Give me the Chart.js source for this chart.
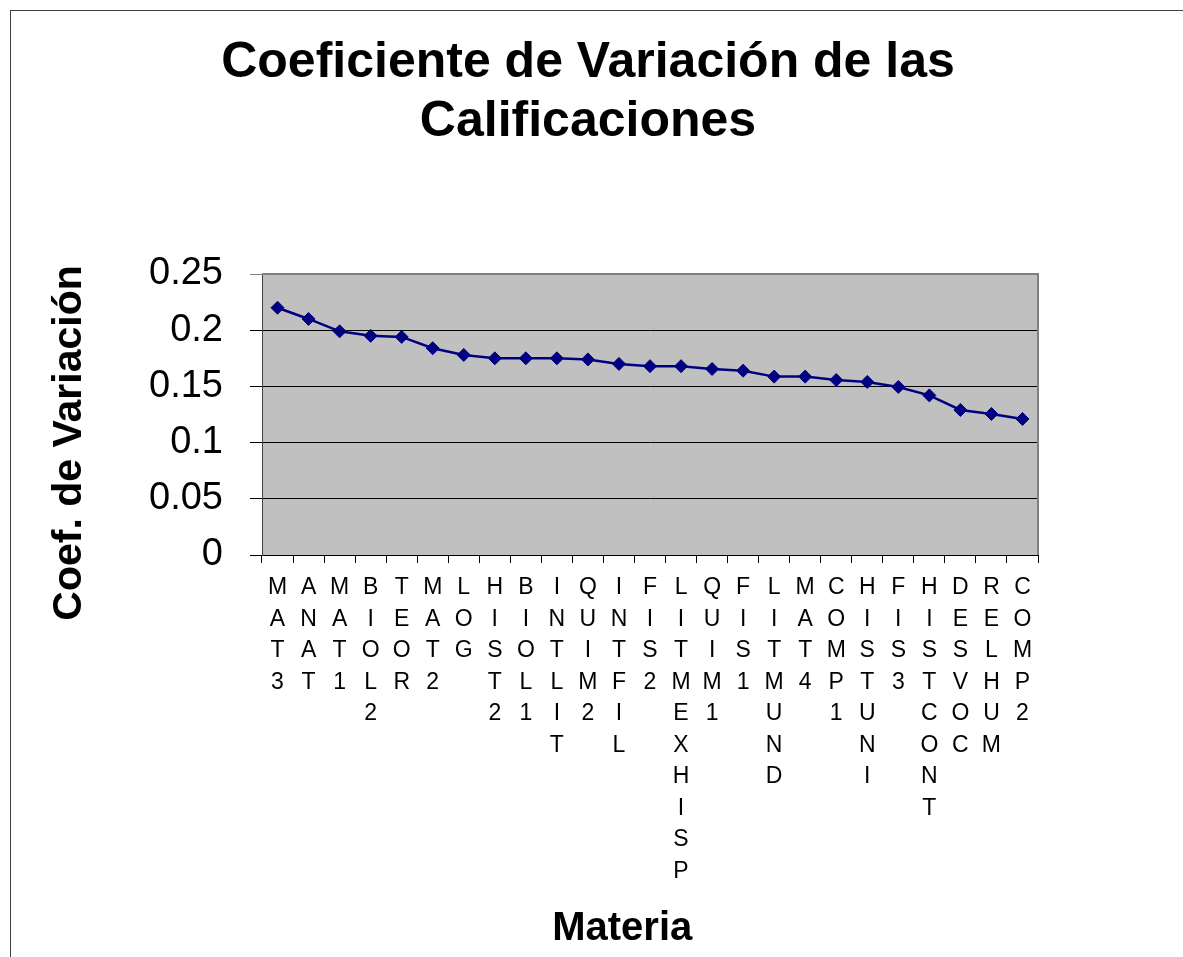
<!DOCTYPE html>
<html>
<head>
<meta charset="utf-8">
<title>Coeficiente de Variación de las Calificaciones</title>
<script src="https://cdn.jsdelivr.net/npm/chart.js"></script>
<style>
  body { margin: 0; background: #fff; }
  #frame {
    position: absolute;
    left: 10px;
    top: 10px;
    width: 1172px;
    height: 946px;
    border-top: 1px solid #404040;
    border-left: 1px solid #404040;
  }
  canvas { display: block; }
</style>
</head>
<body>
<div id="frame">
  <canvas id="cvChart" width="1172" height="946"></canvas>
</div>
<script>
// subjects, in the order shown on the x axis
const materias = ['MAT3', 'ANAT', 'MAT1', 'BIOL2', 'TEOR', 'MAT2', 'LOG', 'HIST2', 'BIOL1',
  'INTLIT', 'QUIM2', 'INTFIL', 'FIS2', 'LITMEXHISP', 'QUIM1', 'FIS1', 'LITMUND', 'MAT4',
  'COMP1', 'HISTUNI', 'FIS3', 'HISTCONT', 'DESVOC', 'RELHUM', 'COMP2'];

// coefficient of variation per subject
const coefVariacion = [0.220, 0.210, 0.199, 0.195, 0.194, 0.184, 0.178, 0.175, 0.175,
  0.175, 0.174, 0.170, 0.168, 0.168, 0.1655, 0.164, 0.1587, 0.1587,
  0.1557, 0.154, 0.1495, 0.142, 0.129, 0.1255, 0.121];

const yTickLabels = ['0', '0.05', '0.1', '0.15', '0.2', '0.25'];

const FONT = "'Liberation Sans', Arial, sans-serif";

// grey plot area with a grey frame, like the spreadsheet chart
const plotArea = {
  id: 'plotArea',
  beforeDraw(chart) {
    const a = chart.chartArea;
    const ctx = chart.ctx;
    ctx.save();
    ctx.fillStyle = '#c0c0c0';
    ctx.fillRect(a.left, a.top, a.right - a.left, a.bottom - a.top);
    ctx.restore();
  },
  beforeDatasetsDraw(chart) {
    const a = chart.chartArea;
    const ctx = chart.ctx;
    ctx.save();
    ctx.strokeStyle = '#808080';
    ctx.lineWidth = 2;
    ctx.beginPath();
    ctx.moveTo(a.left, a.top);
    ctx.lineTo(a.right, a.top);
    ctx.lineTo(a.right, a.bottom);
    ctx.stroke();
    ctx.restore();
  }
};

const ctx = document.getElementById('cvChart').getContext('2d');

new Chart(ctx, {
  type: 'line',
  data: {
    // each label is written letter by letter, one per line
    labels: materias.map(m => m.split('')),
    datasets: [{
      label: 'Coef. de Variación',
      data: coefVariacion,
      yAxisID: 'y',
      borderColor: '#000080',
      borderWidth: 2.5,
      pointStyle: 'rectRot',
      pointRadius: 6.5,
      pointBorderWidth: 1,
      pointBackgroundColor: '#000080',
      pointBorderColor: '#000080',
      tension: 0,
      fill: false
    }]
  },
  options: {
    responsive: false,
    animation: false,
    layout: { padding: { top: 0, right: 18, bottom: 0, left: 0 } },
    plugins: {
      legend: { display: false },
      tooltip: { enabled: false },
      title: {
        display: true,
        text: ['Coeficiente de Variación de las', 'Calificaciones'],
        color: '#000',
        font: { family: FONT, size: 50, weight: 'bold', lineHeight: 1.17 },
        padding: { top: 23, bottom: 123 }
      }
    },
    scales: {
      x: {
        offset: true,
        afterFit(scale) { scale.height = 402; },
        grid: {
          offset: true,
          drawOnChartArea: false,
          drawTicks: true,
          tickLength: 8,
          color: '#000'
        },
        border: { display: true, color: '#000', width: 1 },
        ticks: {
          autoSkip: false,
          maxRotation: 0,
          minRotation: 0,
          padding: 9,
          color: '#000',
          font: { family: FONT, size: 23, lineHeight: 1.37 }
        },
        title: {
          display: true,
          text: 'Materia     ',
          color: '#000',
          font: { family: FONT, size: 40, weight: 'bold', lineHeight: 1.2 },
          padding: { top: 0, bottom: 4 }
        }
      },
      y: {
        position: 'left',
        min: 0,
        max: 0.25,
        afterFit(scale) { scale.width = 251; },
        grid: {
          color: c => (c.index === yTickLabels.length - 1 ? '#808080' : '#000'),
          lineWidth: 1,
          tickLength: 12,
          drawTicks: true
        },
        border: { display: true, color: '#404040', width: 1 },
        ticks: {
          stepSize: 0.05,
          padding: 27,
          color: '#000',
          font: { family: FONT, size: 38 },
          callback: (value, index) => yTickLabels[index]
        },
        title: {
          display: true,
          text: 'Coef. de Variación     ',
          color: '#000',
          font: { family: FONT, size: 41, weight: 'bold', lineHeight: 1.2 },
          padding: { top: 34, bottom: 0 }
        }
      },
      // empty space on the right of the plot
      y2: {
        position: 'right',
        display: true,
        afterFit(scale) { scale.width = 127; },
        grid: { display: false },
        border: { display: false },
        ticks: { display: false }
      }
    }
  },
  plugins: [plotArea]
});
</script>
</body>
</html>
